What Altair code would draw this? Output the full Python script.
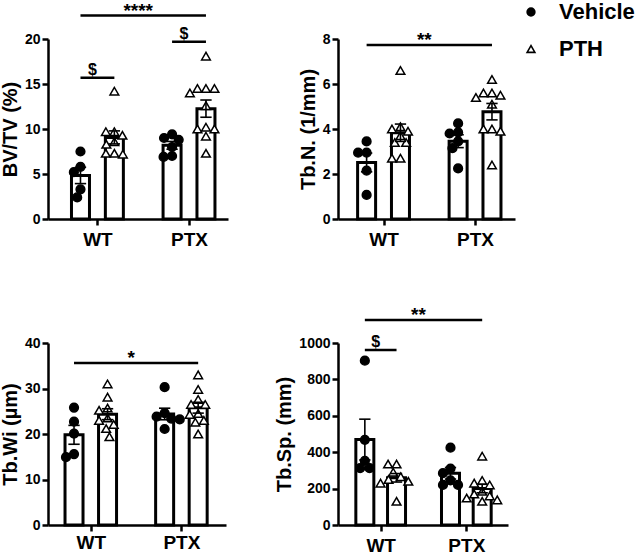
import altair as alt
import pandas as pd

FONT = "Liberation Sans"
GROUPS = ["WT", "PTX"]
TREATMENTS = ["Vehicle", "PTH"]

# BV/TV (%)
bvtv_wt_veh = [7.5, 5.8, 5.2, 3.3, 2.4]
bvtv_wt_pth = [14.2, 9.7, 9.7, 9.3, 8.6, 8.3, 7.3, 7.3, 7.2]
bvtv_ptx_veh = [9.4, 9.0, 8.8, 8.0, 7.0, 6.9]
bvtv_ptx_pth = [18.1, 14.5, 14.5, 14.5, 14.0, 12.6, 10.2, 10.0, 10.0, 9.2, 7.3]

# Tb.N. (1/mm)
tbn_wt_veh = [3.45, 2.95, 2.95, 2.15, 1.07]
tbn_wt_pth = [6.6, 4.1, 4.0, 3.9, 3.7, 3.4, 3.4, 2.7, 2.7]
tbn_ptx_veh = [4.25, 3.85, 3.8, 3.45, 3.15, 2.25]
tbn_ptx_pth = [6.2, 5.6, 5.6, 5.5, 5.4, 5.1, 4.0, 3.9, 4.0, 2.4]

# Tb.Wi (µm)
tbwi_wt_veh = [25.8, 22.7, 20.1, 15.6, 14.9]
tbwi_wt_pth = [31.0, 28.1, 25.7, 25.2, 23.5, 23.0, 22.1, 21.2, 19.4]
tbwi_ptx_veh = [30.3, 24.6, 23.8, 23.4, 23.2, 21.1]
tbwi_ptx_pth = [33.0, 29.8, 27.6, 26.5, 26.5, 24.5, 24.3, 23.0, 22.6, 20.0]

# Tb.Sp. (mm)
tbsp_wt_veh = [903, 468, 352, 312, 312]
tbsp_wt_pth = [335, 335, 290, 265, 250, 240, 230, 130]
tbsp_ptx_veh = [425, 310, 285, 245, 220, 220]
tbsp_ptx_pth = [378, 245, 230, 220, 185, 170, 160, 148, 138, 130]

# significance brackets: (from group, from treatment, to group, to treatment, height, label)
bvtv_sig = [("WT", "Vehicle", "PTX", "PTH", 22.6, "****"),
            ("WT", "Vehicle", "WT", "PTH", 15.7, "$"),
            ("PTX", "Vehicle", "PTX", "PTH", 19.7, "$")]
tbn_sig = [("WT", "Vehicle", "PTX", "PTH", 7.73, "**")]
tbwi_sig = [("WT", "Vehicle", "PTX", "PTH", 35.6, "*")]
tbsp_sig = [("WT", "Vehicle", "PTX", "PTH", 1127, "**"),
            ("WT", "Vehicle", "WT", "PTH", 961, "$")]

HALF = 0.185      # half distance between the two bars of a group (x units)
BAR_W = 18
CAP_PX = 6
DOT_D = 8.8


def bar_center(g, t):
    return GROUPS.index(g) + 1 + (TREATMENTS.index(t) - 0.5) * 2 * HALF


def swarm(vals, px_x, px_y):
    """Spread overlapping points sideways, nearest-to-centre first."""
    order = sorted(range(len(vals)), key=lambda i: -vals[i])
    cands = [0.0] + [s * k * 0.5 for k in range(1, 50) for s in (-1, 1)]
    placed, offs = [], [0.0] * len(vals)
    for i in order:
        y = vals[i] * px_y
        for c in cands:
            if all((c - px) ** 2 + (y - py) ** 2 >= DOT_D ** 2 for px, py in placed):
                break
        placed.append((c, y))
        offs[i] = c / px_x
    return offs


LEGEND = alt.Legend(orient="none", legendX=472, legendY=-38, title=None,
                    labelFontSize=22, labelFontWeight="bold", labelFont=FONT,
                    labelColor="black", symbolSize=60, symbolStrokeWidth=1.6,
                    symbolStrokeColor="black", rowPadding=15, labelOffset=17,
                    padding=0)


def panel(series, ytitle, ymax, ystep, sig, width, height, x_lo, x_hi, xlab_pad):
    px_x = width / (x_hi - x_lo)
    px_y = height / ymax
    rows = []
    for gi, g in enumerate(GROUPS):
        for ti, t in enumerate(TREATMENTS):
            vals = series[gi][ti]
            c = bar_center(g, t)
            for v, o in zip(vals, swarm(vals, px_x, px_y)):
                rows.append({"group": g, "treat": t, "value": v, "bx": c, "px": c + o})
    df = pd.DataFrame(rows)

    sig_df = pd.DataFrame([
        {"x1": bar_center(a, b), "x2": bar_center(c, d), "y": h, "label": lab}
        for a, b, c, d, h, lab in sig
    ])
    sig_df["xm"] = (sig_df["x1"] + sig_df["x2"]) / 2

    xs = alt.Scale(domain=[x_lo, x_hi], nice=False, zero=False)
    ys = alt.Scale(domain=[0, ymax], nice=False)
    label_expr = "[" + ",".join(f"'{g}'" for g in GROUPS) + "][datum.value - 1]"
    x_axis = alt.Axis(values=[1, 2], labelExpr=label_expr, title=None, grid=False,
                      tickSize=6, tickWidth=2.5, domainWidth=2.5, domainColor="black",
                      tickColor="black", labelColor="black", labelFontSize=19,
                      labelFontWeight="bold", labelPadding=xlab_pad, labelFlush=False,
                      labelAngle=0, labelFont=FONT)
    y_axis = alt.Axis(values=list(range(0, ymax + 1, ystep)), format="d", title=ytitle,
                      grid=False, tickSize=6, tickWidth=2.5, domainWidth=2.5,
                      domainColor="black", tickColor="black", labelColor="black",
                      labelFontSize=14, labelFontWeight="bold", labelPadding=2,
                      labelFlush=False, titleFontSize=20, titleFontWeight="bold",
                      titleColor="black", titlePadding=4, labelFont=FONT, titleFont=FONT)

    def X(f):
        return alt.X(f, type="quantitative", scale=xs, axis=x_axis)

    def Y(f):
        return alt.Y(f, type="quantitative", scale=ys, axis=y_axis)

    base = alt.Chart(df)
    bars = base.mark_bar(width=BAR_W, fill="white", stroke="black", strokeWidth=3).encode(
        x=X("bx"), y=Y("mean(value)"))

    points = base.mark_point(filled=True, strokeWidth=1.5, size=76, opacity=1).encode(
        x=X("px"), y=Y("value"),
        shape=alt.Shape("treat:N", scale=alt.Scale(domain=TREATMENTS,
                                                   range=["circle", "triangle-up"]),
                        legend=LEGEND),
        fill=alt.Fill("treat:N", scale=alt.Scale(domain=TREATMENTS,
                                                 range=["black", "white"]),
                      legend=LEGEND),
        stroke=alt.Stroke("treat:N", scale=alt.Scale(domain=TREATMENTS,
                                                     range=["black", "black"]),
                          legend=LEGEND),
    )

    cap = CAP_PX / px_x
    err = base.transform_aggregate(
        m="mean(value)", se="stderr(value)", groupby=["bx"]
    ).transform_calculate(
        lo="datum.m - datum.se", hi="datum.m + datum.se",
        c1=f"datum.bx - {cap}", c2=f"datum.bx + {cap}"
    )
    err_v = err.mark_rule(strokeWidth=1.6, color="black").encode(x=X("bx"), y=Y("lo"), y2="hi:Q")
    err_hi = err.mark_rule(strokeWidth=1.6, color="black").encode(x=X("c1"), x2="c2:Q", y=Y("hi"))
    err_lo = err.mark_rule(strokeWidth=1.6, color="black").encode(x=X("c1"), x2="c2:Q", y=Y("lo"))

    sbase = alt.Chart(sig_df)
    sig_lines = sbase.mark_rule(strokeWidth=2.5, color="black").encode(
        x=X("x1"), x2="x2:Q", y=Y("y"))
    stars = sbase.transform_filter("datum.label != '$'").mark_text(
        font=FONT, fontSize=19, fontWeight="bold", baseline="alphabetic", dy=1, dx=-5,
        color="black").encode(x=X("xm"), y=Y("y"), text="label:N")
    dollars = sbase.transform_filter("datum.label == '$'").mark_text(
        font=FONT, fontSize=16, fontWeight="bold", baseline="alphabetic", dy=-3, dx=-5,
        color="black").encode(x=X("xm"), y=Y("y"), text="label:N")

    return alt.layer(bars, points, err_v, err_hi, err_lo, sig_lines, stars, dollars).properties(
        width=width, height=height)


p1 = panel([[bvtv_wt_veh, bvtv_wt_pth], [bvtv_ptx_veh, bvtv_ptx_pth]],
           "BV/TV (%)", 20, 5, bvtv_sig, 180, 180, 0.515, 2.371, 5)
p2 = panel([[tbn_wt_veh, tbn_wt_pth], [tbn_ptx_veh, tbn_ptx_pth]],
           "Tb.N. (1/mm)", 8, 2, tbn_sig, 177, 180, 0.557, 2.382, 5)
p3 = panel([[tbwi_wt_veh, tbwi_wt_pth], [tbwi_ptx_veh, tbwi_ptx_pth]],
           "Tb.Wi (µm)", 40, 10, tbwi_sig, 178, 182, 0.583, 2.437, 2)
p4 = panel([[tbsp_wt_veh, tbsp_wt_pth], [tbsp_ptx_veh, tbsp_ptx_pth]],
           "Tb.Sp. (mm)", 1000, 200, tbsp_sig, 170, 182, 0.560, 2.428, 5)

chart = alt.concat(
    p1, p2, p3, p4, columns=2, bounds="flush",
    spacing=alt.RowColnumber(row=124, column=110),
).properties(
    padding={"left": 0, "top": 1, "right": 0, "bottom": 0},
    background="white",
).configure_view(stroke=None)

chart.save("out.html", embed_options={"renderer": "svg", "actions": False})
